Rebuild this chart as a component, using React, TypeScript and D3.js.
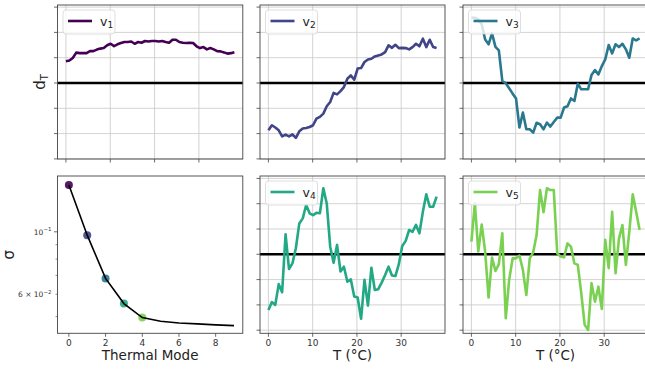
import React from 'react';
import * as d3 from 'd3';

// temperature axis (°C), one value per sample
const T = [
  0, 0.78, 1.55, 2.33, 3.1, 3.88, 4.65, 5.43, 6.2, 6.98,
  7.76, 8.53, 9.31, 10.08, 10.86, 11.63, 12.41, 13.18, 13.96, 14.73,
  15.51, 16.29, 17.06, 17.84, 18.61, 19.39, 20.16, 20.94, 21.71, 22.49,
  23.27, 24.04, 24.82, 25.59, 26.37, 27.14, 27.92, 28.69, 29.47, 30.24,
  31.02, 31.8, 32.57, 33.35, 34.12, 34.9, 35.67, 36.45, 37.22, 38,
];

const V1 = [
  0.086, 0.089, 0.099, 0.12, 0.118, 0.118, 0.118, 0.126, 0.126, 0.132,
  0.136, 0.138, 0.149, 0.155, 0.146, 0.153, 0.158, 0.162, 0.162, 0.164,
  0.155, 0.162, 0.159, 0.166, 0.164, 0.166, 0.166, 0.164, 0.166, 0.162,
  0.159, 0.171, 0.171, 0.162, 0.159, 0.158, 0.159, 0.158, 0.145, 0.138,
  0.142, 0.133, 0.138, 0.133, 0.126, 0.125, 0.121, 0.116, 0.118, 0.122,
];

const V2 = [
  -0.187, -0.167, -0.176, -0.187, -0.211, -0.204, -0.211, -0.203, -0.217, -0.191,
  -0.18, -0.178, -0.174, -0.167, -0.141, -0.134, -0.121, -0.092, -0.075, -0.039,
  -0.045, -0.032, -0.016, 0.017, 0.03, 0.013, 0.057, 0.059, 0.083, 0.093,
  0.096, 0.105, 0.109, 0.113, 0.122, 0.149, 0.139, 0.151, 0.138, 0.139,
  0.138, 0.133, 0.142, 0.155, 0.145, 0.175, 0.142, 0.171, 0.142, 0.138,
];

const V3 = [
  0.258, 0.258, 0.251, 0.232, 0.172, 0.153, 0.196, 0.143, 0.129, 0.008,
  -0.001, -0.021, -0.042, -0.061, -0.176, -0.117, -0.183, -0.183, -0.196, -0.157,
  -0.163, -0.183, -0.157, -0.172, -0.154, -0.137, -0.137, -0.097, -0.092, -0.061,
  -0.071, -0.003, -0.025, -0.025, -0.025, 0.032, 0.051, 0.034, 0.067, 0.093,
  0.15, 0.117, 0.153, 0.142, 0.155, 0.133, 0.1, 0.176, 0.168, 0.176,
];

const V4 = [
  -0.22, -0.189, -0.2, -0.118, -0.15, 0.079, -0.058, -0.036, 0.024, 0.122,
  0.142, 0.195, 0.162, 0.155, 0.164, 0.162, 0.261, 0.201, 0.03, -0.033,
  0.037, -0.068, -0.049, -0.108, -0.099, -0.167, -0.171, -0.255, -0.101, -0.203,
  -0.053, -0.141, -0.138, -0.112, -0.082, -0.049, -0.084, -0.086, -0.039, 0.033,
  0.053, 0.096, 0.089, 0.116, 0.083, 0.168, 0.237, 0.188, 0.188, 0.228,
];

const V5 = [
  0.05, 0.201, 0.011, 0.118, 0.011, -0.171, -0.013, -0.066, -0.039, 0.083,
  -0.253, -0.101, -0.016, -0.016, -0.005, -0.062, -0.161, -0.016, 0.008, 0.076,
  0.254, 0.166, 0.261, 0.254, 0.254, 0.004, -0.009, -0.012, 0.043, 0.03,
  -0.036, -0.042, -0.154, -0.279, -0.299, -0.114, -0.187, -0.128, -0.216, 0.057,
  -0.055, 0.168, -0.075, 0.063, 0.116, -0.042, 0.089, 0.237, 0.168, 0.096,
];

// singular values per thermal mode
const MODES = [0, 1, 2, 3, 4, 5, 6, 7, 8, 9];
const SIGMA = [0.1466, 0.0973, 0.0683, 0.0556, 0.0496, 0.0481, 0.0474, 0.0471, 0.0467, 0.0464];

const T_TICKS = [0, 10, 20, 30];
const Y_TICKS = [-0.3, -0.2, -0.1, 0, 0.1, 0.2, 0.3];
const MODE_TICKS = [0, 2, 4, 6, 8];
const LOG_MINOR = [0.05, 0.06, 0.07, 0.08, 0.09];

const SERIES = [V1, V2, V3, V4, V5];

const FONT = 'DejaVu Sans, sans-serif';
const COLS: [number, number][] = [[57.5, 242.8], [260, 445], [463, 648]];
const ROWS: [number, number][] = [[5, 159], [176, 333.3]];
const Y_DOMAINS: [number, number][] = [[-0.3004, 0.3083], [-0.3123, 0.3095]];

const color = (i: number) => d3.interpolateViridis(i / 5);

function Legend({ x, y, i }: { x: number; y: number; i: number }) {
  return (
    <g>
      <rect x={x} y={y} width={52} height={24} rx={3} fill="white" fillOpacity={0.8} stroke="#d6d6d6" strokeWidth={0.8} />
      <line x1={x + 5} x2={x + 29} y1={y + 11} y2={y + 11} stroke={color(i)} strokeWidth={2.6} />
      <text x={x + 37} y={y + 15.5} fontFamily={FONT} fontSize={12.5} fill="#222">
        v<tspan fontSize={9} dy={2.5}>{String(i + 1)}</tspan>
      </text>
    </g>
  );
}

function SeriesPanel({ i, col, row, showX }: { i: number; col: number; row: number; showX: boolean }) {
  const [x0, x1] = COLS[col];
  const [y0, y1] = ROWS[row];
  const x = d3.scaleLinear().domain([-1.9, 39.9]).range([x0, x1]);
  const y = d3.scaleLinear().domain(Y_DOMAINS[row]).range([y1, y0]);
  const line = d3.line<number>().x((_, k) => x(T[k])).y(d => y(d));
  return (
    <g>
      {T_TICKS.map(t => (
        <line key={'gx' + t} x1={x(t)} x2={x(t)} y1={y0} y2={y1} stroke="#c8c8c8" strokeWidth={0.8} />
      ))}
      {Y_TICKS.map(t => (
        <line key={'gy' + t} x1={x0} x2={x1} y1={y(t)} y2={y(t)} stroke="#c8c8c8" strokeWidth={0.8} />
      ))}
      <line x1={x0} x2={x1} y1={y(0)} y2={y(0)} stroke="black" strokeWidth={2.4} />
      <path d={line(SERIES[i]) || ''} fill="none" stroke={color(i)} strokeWidth={2.6} strokeLinejoin="round" />
      <Legend x={x0 + 5.5} y={y0 + 5} i={i} />
      <rect x={x0} y={y0} width={x1 - x0} height={y1 - y0} fill="none" stroke="#444" strokeWidth={0.9} />
      {Y_TICKS.map(t => (
        <line key={'ty' + t} x1={x0 - 3.5} x2={x0} y1={y(t)} y2={y(t)} stroke="#444" strokeWidth={0.8} />
      ))}
      {T_TICKS.map(t => (
        <g key={'tx' + t}>
          <line x1={x(t)} x2={x(t)} y1={y1} y2={y1 + 3.5} stroke="#444" strokeWidth={0.8} />
          {showX && (
            <text x={x(t)} y={y1 + 13} textAnchor="middle" fontFamily={FONT} fontSize={9} fill="#333">{t}</text>
          )}
        </g>
      ))}
      {showX && (
        <text x={(x0 + x1) / 2} y={360} textAnchor="middle" fontFamily={FONT} fontSize={13.5} fill="#222">T (°C)</text>
      )}
    </g>
  );
}

function SigmaPanel() {
  const [x0, x1] = COLS[0];
  const [y0, y1] = ROWS[1];
  const x = d3.scaleLinear().domain([-0.62, 9.48]).range([x0, x1]);
  const y = d3.scaleLog().domain([0.04359, 0.1579]).range([y1, y0]);
  const line = d3.line<number>().x((_, k) => x(MODES[k])).y(d => y(d));
  return (
    <g>
      {SIGMA.slice(0, 5).map((s, k) => (
        <circle key={k} cx={x(MODES[k])} cy={y(s)} r={4} fill={color(k)} fillOpacity={0.9} />
      ))}
      <path d={line(SIGMA) || ''} fill="none" stroke="black" strokeWidth={1.6} />
      <rect x={x0} y={y0} width={x1 - x0} height={y1 - y0} fill="none" stroke="#444" strokeWidth={0.9} />
      {MODE_TICKS.map(t => (
        <g key={t}>
          <line x1={x(t)} x2={x(t)} y1={y1} y2={y1 + 3.5} stroke="#444" strokeWidth={0.8} />
          <text x={x(t)} y={y1 + 13} textAnchor="middle" fontFamily={FONT} fontSize={9} fill="#333">{t}</text>
        </g>
      ))}
      <line x1={x0 - 3.5} x2={x0} y1={y(0.1)} y2={y(0.1)} stroke="#444" strokeWidth={0.8} />
      {LOG_MINOR.map(t => (
        <line key={t} x1={x0 - 2} x2={x0} y1={y(t)} y2={y(t)} stroke="#444" strokeWidth={0.6} />
      ))}
      <text x={x0 - 6} y={y(0.1) + 3} textAnchor="end" fontFamily={FONT} fontSize={7.5} fill="#333">
        10<tspan fontSize={5.5} dy={-3.5}>−1</tspan>
      </text>
      <text x={x0 - 6} y={y(0.06) + 3} textAnchor="end" fontFamily={FONT} fontSize={7.5} fill="#333">
        6 × 10<tspan fontSize={5.5} dy={-3.5}>−2</tspan>
      </text>
      <text x={(x0 + x1) / 2} y={360} textAnchor="middle" fontFamily={FONT} fontSize={13.5} fill="#222">Thermal Mode</text>
      <text transform={`translate(14, ${(y0 + y1) / 2}) rotate(-90)`} textAnchor="middle" fontFamily={FONT} fontSize={15} fill="#222">σ</text>
    </g>
  );
}

export default function App() {
  return (
    <svg width={645} height={375} style={{ position: 'absolute', left: 0, top: 0, background: 'white' }}>
      <rect width={645} height={375} fill="white" />
      <SeriesPanel i={0} col={0} row={0} showX={false} />
      <SeriesPanel i={1} col={1} row={0} showX={false} />
      <SeriesPanel i={2} col={2} row={0} showX={false} />
      <SigmaPanel />
      <SeriesPanel i={3} col={1} row={1} showX={true} />
      <SeriesPanel i={4} col={2} row={1} showX={true} />
      <text transform={`translate(45, 82) rotate(-90)`} textAnchor="middle" fontFamily={FONT} fontSize={15} fill="#222">
        d<tspan fontSize={10} dy={3}>T</tspan>
      </text>
    </svg>
  );
}
